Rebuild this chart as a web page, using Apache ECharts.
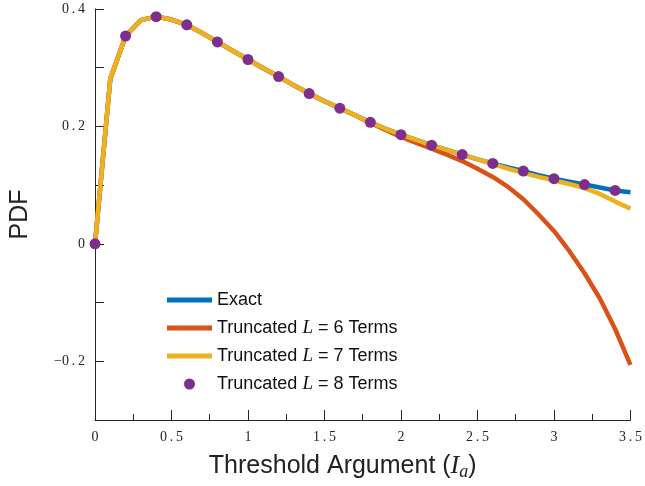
<!DOCTYPE html>
<html>
<head>
<meta charset="utf-8">
<script src="https://cdn.jsdelivr.net/npm/echarts@6/dist/echarts.min.js"></script>
<style>
  html, body { margin: 0; padding: 0; background: #fff; }
  #chart { width: 645px; height: 486px; }
</style>
</head>
<body>
<div id="chart"></div>
<script>
// x grid of the curves (step 0.1)
const xValues = [0, 0.1, 0.2, 0.3, 0.4, 0.5, 0.6, 0.7, 0.8, 0.9, 1.0, 1.1, 1.2, 1.3, 1.4, 1.5, 1.6, 1.7,
    1.8, 1.9, 2.0, 2.1, 2.2, 2.3, 2.4, 2.5, 2.6, 2.7, 2.8, 2.9, 3.0, 3.1, 3.2, 3.3, 3.4, 3.5];

// exact pdf
const exactPdf = [0, 0.281, 0.354, 0.381, 0.387, 0.382, 0.373, 0.359, 0.344, 0.329, 0.314, 0.299, 0.285,
    0.270, 0.256, 0.243, 0.231, 0.219, 0.207, 0.196, 0.186, 0.177, 0.168, 0.160, 0.152, 0.144, 0.137,
    0.130, 0.124, 0.117, 0.111, 0.106, 0.101, 0.096, 0.091, 0.088];

// truncated L = 6
const trunc6 = [0, 0.281, 0.354, 0.381, 0.387, 0.382, 0.373, 0.359, 0.344, 0.329, 0.314, 0.299, 0.285,
    0.270, 0.256, 0.243, 0.231, 0.219, 0.206, 0.194, 0.182, 0.172, 0.162, 0.152, 0.141, 0.128, 0.114,
    0.097, 0.076, 0.050, 0.022, -0.012, -0.050, -0.093, -0.145, -0.206];

// truncated L = 7
const trunc7 = [0, 0.281, 0.354, 0.381, 0.387, 0.382, 0.373, 0.359, 0.344, 0.329, 0.314, 0.299, 0.285,
    0.270, 0.256, 0.243, 0.231, 0.219, 0.207, 0.196, 0.186, 0.177, 0.168, 0.160, 0.152, 0.144, 0.136,
    0.128, 0.121, 0.114, 0.108, 0.102, 0.095, 0.085, 0.072, 0.060];

// truncated L = 8 (markers, step 0.2)
const xMarkers = [0, 0.2, 0.4, 0.6, 0.8, 1.0, 1.2, 1.4, 1.6, 1.8, 2.0, 2.2, 2.4, 2.6, 2.8, 3.0, 3.2, 3.4];
const trunc8 = [0, 0.354, 0.387, 0.373, 0.344, 0.314, 0.285, 0.256, 0.231, 0.207, 0.186, 0.168, 0.152,
    0.137, 0.124, 0.111, 0.101, 0.091];

const xTickLabels = ['0', '0.5', '1', '1.5', '2', '2.5', '3', '3.5'];

const COLORS = ['#0072BD', '#D95319', '#EDB120', '#7E2F8E'];
const SERIF = "'Liberation Serif', 'DejaVu Serif', serif";
const SANS = "'Liberation Sans', Arial, sans-serif";
const LINE_ICON = 'path://M0,0 L45,0 L45,5 L0,5 Z';

const pairs = (xs, ys) => xs.map((x, i) => [x, ys[i]]);

// 숫자 라벨: 수식 폰트처럼 간격을 둔다
function spaced(s) {
    return s.split('').join('\u2009');
}

const chart = echarts.init(document.getElementById('chart'));

const lineSeries = (name, ys, color) => ({
    name: name,
    type: 'line',
    data: pairs(xValues, ys),
    symbol: 'none',
    smooth: false,
    lineStyle: { color: color, width: 4.5 },
    itemStyle: { color: color },
    z: 2
});

const option = {
    animation: false,
    grid: { left: 93, right: 13, top: 9, bottom: 63 },
    legend: {
        orient: 'vertical',
        left: 162,
        top: 285,
        itemWidth: 45,
        itemHeight: 11,
        itemGap: 8,
        data: [
            { name: 'Exact', icon: LINE_ICON },
            { name: 'Truncated L = 6 Terms', icon: LINE_ICON },
            { name: 'Truncated L = 7 Terms', icon: LINE_ICON },
            { name: 'Truncated L = 8 Terms', icon: 'circle' }
        ],
        formatter: name => name.replace(' L ', ' {m|L} '),
        textStyle: {
            fontFamily: SANS,
            fontSize: 18,
            color: '#111',
            lineHeight: 20,
            rich: {
                m: { fontFamily: SERIF, fontStyle: 'italic', fontSize: 19, color: '#111' }
            }
        }
    },
    xAxis: {
        type: 'value',
        min: 0,
        max: 3.5,
        interval: 0.5,
        name: 'Threshold Argument ({i|I}{s|a})',
        nameLocation: 'middle',
        nameGap: 31,
        nameTextStyle: {
            fontFamily: SANS,
            fontSize: 25,
            color: '#222',
            padding: [0, 40, 0, 0],
            rich: {
                i: { fontFamily: SERIF, fontStyle: 'italic', fontSize: 26, color: '#222' },
                s: { fontFamily: SERIF, fontStyle: 'italic', fontSize: 18, color: '#222', padding: [12, 0, 0, 0] }
            }
        },
        axisLine: { onZero: false, lineStyle: { color: '#262626', width: 1 } },
        axisTick: { inside: true, length: 10, lineStyle: { color: '#262626' } },
        minorTick: { show: true, splitNumber: 2, length: 6, lineStyle: { color: '#262626' } },
        splitLine: { show: false },
        axisLabel: {
            margin: 10,
            fontFamily: SERIF,
            fontSize: 14,
            color: '#262626',
            showMaxLabel: true,
            formatter: v => spaced(xTickLabels[Math.round(v * 2)])
        }
    },
    yAxis: {
        type: 'value',
        min: -0.3,
        max: 0.4,
        interval: 0.1,
        name: 'PDF',
        nameLocation: 'middle',
        nameRotate: 90,
        nameGap: 62,
        nameTextStyle: { fontFamily: SANS, fontSize: 25, color: '#222' },
        axisLine: { show: true, onZero: false, lineStyle: { color: '#262626', width: 1 } },
        axisTick: { show: true, inside: true, length: 9, lineStyle: { color: '#262626' } },
        splitLine: { show: false },
        axisLabel: {
            margin: 10,
            fontFamily: SERIF,
            fontSize: 14,
            color: '#262626',
            formatter: v => {
                const k = Math.round(v * 10);
                if (k % 2 !== 0) return '';
                if (k === 0) return '0';
                const s = spaced((Math.abs(k) / 10).toFixed(1));
                return k < 0 ? '\u2212' + s : s;
            }
        }
    },
    series: [
        lineSeries('Exact', exactPdf, COLORS[0]),
        lineSeries('Truncated L = 6 Terms', trunc6, COLORS[1]),
        lineSeries('Truncated L = 7 Terms', trunc7, COLORS[2]),
        {
            name: 'Truncated L = 8 Terms',
            type: 'scatter',
            data: pairs(xMarkers, trunc8),
            symbol: 'circle',
            symbolSize: 11,
            itemStyle: { color: COLORS[3], opacity: 1 },
            z: 3
        }
    ]
};

chart.setOption(option);
window.addEventListener('resize', () => chart.resize());
</script>
</body>
</html>
